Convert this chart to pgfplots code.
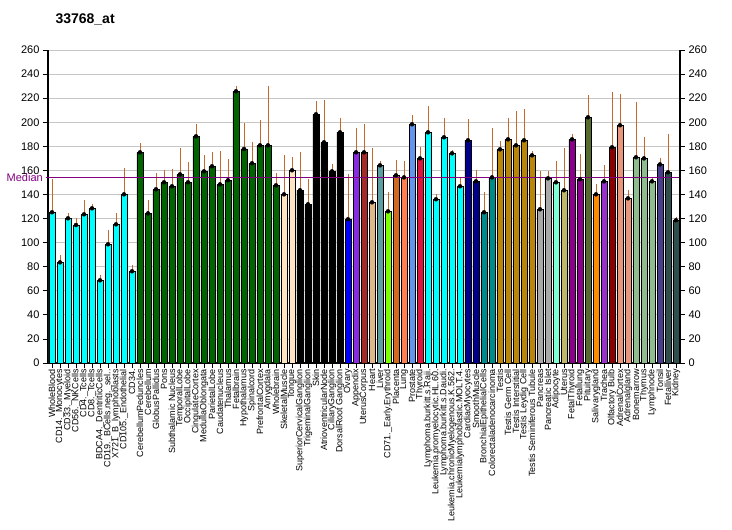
\documentclass[border=0pt]{standalone}
\usepackage{pgfplots}
\usepackage{pgfplotstable}
\pgfplotsset{compat=1.18}
\usepackage{fontspec}
\setmainfont{Liberation Sans}
\definecolor{errc}{RGB}{196,104,44}
\definecolor{cCyan}{HTML}{00FFFF}
\definecolor{cDarkgreen}{HTML}{006400}
\definecolor{cBisque}{HTML}{FFE4C4}
\definecolor{cBlack}{HTML}{000000}
\definecolor{cBlue}{HTML}{0000FF}
\definecolor{cBlueviolet}{HTML}{8A2BE2}
\definecolor{cBrown}{HTML}{A52A2A}
\definecolor{cBurlywood}{HTML}{DEB887}
\definecolor{cCadetblue}{HTML}{5F9EA0}
\definecolor{cChartreuse}{HTML}{7FFF00}
\definecolor{cChocolate}{HTML}{D2691E}
\definecolor{cCoral}{HTML}{FF7F50}
\definecolor{cCornflower}{HTML}{6495ED}
\definecolor{cCrimson}{HTML}{DC143C}
\definecolor{cDarkblue}{HTML}{00008B}
\definecolor{cDarkcyan}{HTML}{008B8B}
\definecolor{cGoldenrod}{HTML}{B8860B}
\definecolor{cDarkgray}{HTML}{A9A9A9}
\definecolor{cAquamarine}{HTML}{7FFFD4}
\definecolor{cKhaki}{HTML}{BDB76B}
\definecolor{cMagenta}{HTML}{8B008B}
\definecolor{cOlive}{HTML}{556B2F}
\definecolor{cOrange}{HTML}{FF8C00}
\definecolor{cOrchid}{HTML}{9932CC}
\definecolor{cDarkred}{HTML}{8B0000}
\definecolor{cSalmon}{HTML}{E9967A}
\definecolor{cSeagreen}{HTML}{8FBC8F}
\definecolor{cSlateblue}{HTML}{483D8B}
\definecolor{cSlategray}{HTML}{2F4F4F}
\definecolor{medc}{HTML}{800080}
\pgfplotstableread{
x y e
1 125.2 24.9
2 83.6 3.4
3 120.2 1.6
4 114.6 3.1
5 123.5 9.1
6 128.5 0.8
7 68.7 1.6
8 98.6 9.1
9 115.2 6.6
10 140.1 19.1
11 76.2 2.7
12 175.0 5.0
13 124.3 8.3
14 144.3 10.8
15 150.1 7.5
16 146.8 11.6
17 156.7 19.2
18 150.1 14.1
19 188.3 7.5
20 159.2 10.8
21 163.4 9.1
22 148.4 25.0
23 151.8 14.9
24 225.7 1.7
25 177.8 18.8
26 165.9 14.9
27 180.8 18.3
28 180.8 46.6
29 147.6 7.5
30 140.1 29.9
31 160.1 8.3
32 143.5 29.0
33 131.8 18.3
34 206.6 8.3
35 183.3 32.4
36 159.2 3.4
37 191.6 9.2
38 119.4 34.8
39 175.0 17.5
40 175.0 20.8
41 133.5 42.4
42 164.2 0.8
43 126.0 13.3
44 155.9 10.0
45 154.2 10.8
46 198.3 5.0
47 170.0 6.7
48 191.6 19.1
49 136.0 1.6
50 187.5 13.3
51 174.2 0
52 146.8 5.0
53 185.0 14.9
54 150.9 6.7
55 125.2 14.1
56 154.2 38.3
57 177.5 4.2
58 185.8 15.0
59 180.8 25.8
60 185.0 23.3
61 172.5 0.9
62 127.7 29.0
63 153.4 3.3
64 150.1 14.9
65 143.5 32.4
66 185.8 1.7
67 152.6 18.3
68 204.1 15.8
69 140.1 5.8
70 150.9 10.8
71 179.2 43.2
72 197.5 23.2
73 136.8 4.2
74 170.9 43.2
75 170.0 15.0
76 150.9 0.9
77 165.0 2.5
78 158.4 29.1
79 118.5 0
}\data
\pgfplotsset{
  gbar/.style n args={3}{ybar, bar width=6pt, bar shift=0pt, draw=black, line width=0.8pt, fill=#1,
    restrict x to domain=#2:#3, forget plot},
}
\newcommand{\grp}[3]{\addplot[gbar={#1}{#2}{#3}] table[x=x, y=y] {\data};}
\begin{document}
\begin{tikzpicture}
\useasboundingbox (0,0) rectangle (732pt,530pt);
\node[anchor=base west, font=\bfseries\fontsize{14}{14}\selectfont] at (52pt,506pt) {33768\_at};
\begin{axis}[at={(48pt,167pt)}, anchor=south west, width=632pt, height=313pt, scale only axis,
  xmin=0.5, xmax=79.5, ymin=0, ymax=260,
  axis x line*=bottom, axis y line*=left,
  axis line style={line width=1.2pt},
  ytick={0,20,...,260}, xtick={1,...,79},
  tick align=outside, major tick length=5pt,
  tick style={black, line width=0.8pt},
  ymajorgrids, grid style={draw=gray!45, line width=0.8pt},
  /pgf/number format/assume math mode=true,
  yticklabel style={font=\fontsize{11}{11}\selectfont},
  xticklabel style={font=\fontsize{9}{9}\selectfont, rotate=90, anchor=east, inner sep=1pt},
  xticklabels={WholeBlood, CD14.\_Monocytes, CD33.\_Myeloid, CD56.\_NKCells, CD4.\_Tcells, CD8.\_Tcells, BDCA4.\_DentriticCells, CD19.\_BCells.neg.\_sel.., X721\_B\_lymphoblasts, CD105.\_Endothelial, CD34., CerebellumPeduncles, Cerebellum, GlobusPallidus, Pons, Subthalamic Nucleus, TemporalLobe, OccipitalLobe, CingulateCortex, MedullaOblongata, ParietalLobe, Caudatenucleus, Thalamus, Fetalbrain, Hypothalamus, Spinalcord, PrefrontalCortex, Amygdala, Wholebrain, SkeletalMuscle, Tongue, SuperiorCervicalGanglion, TrigeminalGanglion, Skin, AtrioventricularNode, CiliaryGanglion, DorsalRoot Ganglion, Ovary, Appendix, UterusCorpus, Heart, Liver, CD71.\_Early.Erythroid, Placenta, Lung, Prostate, Thyroid, Lymphoma.burkitt.s.Raji., Leukemia.promyelocytic.HL.60., Lymphoma.burkitt.s.Daudi., Leukemia.chronicMyelogenous.K.562., Leukemialymphoblastic.MOLT.4., CardiacMyocytes, SmoothMuscle, BronchialEpithelialCells, Colorectaladenocarcinoma, Testis, Testis Germ Cell, Testis Interstitial, Testis Leydig Cell, Testis Seminiferous Tubule, Pancreas, Pancreatic Islet, Adipocyte, Uterus, FetalThyroid, Fetallung, Pituitary, Salivarygland, Trachea, Olfactory Bulb, AdrenalCortex, Adrenalgland, Bonemarrow, Thymus, Lymphnode, Tonsil, Fetalliver, Kidney},
  clip=false,
]
\grp{cCyan}{1}{11}
\grp{cDarkgreen}{12}{29}
\grp{cBisque}{30}{31}
\grp{cBlack}{32}{37}
\grp{cBlue}{38}{38}
\grp{cBlueviolet}{39}{39}
\grp{cBrown}{40}{40}
\grp{cBurlywood}{41}{41}
\grp{cCadetblue}{42}{42}
\grp{cChartreuse}{43}{43}
\grp{cChocolate}{44}{44}
\grp{cCoral}{45}{45}
\grp{cCornflower}{46}{46}
\grp{cCrimson}{47}{47}
\grp{cCyan}{48}{52}
\grp{cDarkblue}{53}{54}
\grp{cDarkcyan}{55}{56}
\grp{cGoldenrod}{57}{61}
\grp{cDarkgray}{62}{63}
\grp{cAquamarine}{64}{64}
\grp{cKhaki}{65}{65}
\grp{cMagenta}{66}{67}
\grp{cOlive}{68}{68}
\grp{cOrange}{69}{69}
\grp{cOrchid}{70}{70}
\grp{cDarkred}{71}{71}
\grp{cSalmon}{72}{73}
\grp{cSeagreen}{74}{76}
\grp{cSlateblue}{77}{77}
\grp{cSlategray}{78}{79}
\addplot[only marks, mark=none, forget plot,
  error bars/.cd, y dir=plus, y explicit,
  error bar style={draw=errc, line width=0.9pt, solid},
  error mark options={draw=errc, mark size=3pt, line width=0.9pt, solid}]
  table[x=x, y=y, y error=e] {\data};
\addplot[sharp plot, draw=medc, line width=0.9pt, forget plot] coordinates {(0.2,154.4) (79.5,154.4)};
\node[anchor=east, text=medc, font=\fontsize{11}{11}\selectfont, inner sep=0pt] at (axis cs:0.5,154.4) [xshift=-5pt] {Median};
\end{axis}
\begin{axis}[at={(48pt,167pt)}, anchor=south west, width=632pt, height=313pt, scale only axis,
  xmin=0.5, xmax=79.5, ymin=0, ymax=260,
  axis x line=none, axis y line*=right,
  axis line style={line width=1.2pt},
  ytick={0,20,...,260},
  tick align=outside, major tick length=5pt,
  tick style={black, line width=0.8pt},
  /pgf/number format/assume math mode=true,
  yticklabel style={font=\fontsize{11}{11}\selectfont},
]
\addplot[draw=none] coordinates {(1,0)};
\end{axis}
\end{tikzpicture}
\end{document}
